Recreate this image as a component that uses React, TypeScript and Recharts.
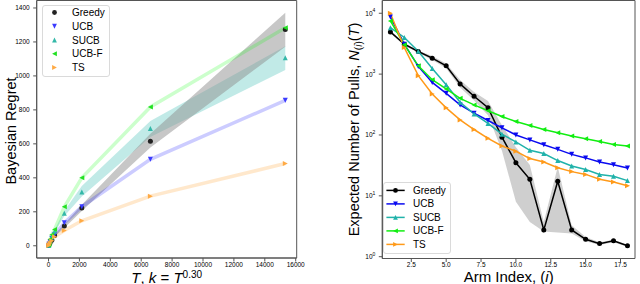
import React from 'react';
import { Area, ComposedChart, Legend, Line, ReferenceArea, XAxis, YAxis } from 'recharts';

const FONT = '"Liberation Sans", Arial, sans-serif';
const SPINE = '#555';

const seriesNames = ['Greedy', 'UCB', 'SUCB', 'UCB-F', 'TS'];
const markerShapes = ['o', 'v', '^', '<', '>'];

// left panel: regret vs horizon T (k = T^0.3 arms)
const horizons = [10, 39, 102, 214, 392, 1024, 2154, 6594, 15326];
const regretGreedy = [2, 7, 18, 33, 61, 116, 222, 615, 1273];
const regretGreedyLow = [1, 5, 14, 28, 54, 104, 205, 578, 1172];
const regretGreedyHigh = [3, 9, 22, 38, 68, 128, 242, 660, 1372];
const regretUcb = [3, 10, 25, 45, 66, 135, 230, 509, 856];
const regretSucb = [3, 12, 30, 52, 85, 192, 317, 690, 1107];
const regretSucbLow = [2, 10, 25, 45, 76, 176, 290, 640, 1035];
const regretSucbHigh = [4, 14, 35, 60, 95, 206, 352, 735, 1175];
const regretUcbf = [4, 15, 38, 65, 96, 229, 400, 817, 1283];
const regretTs = [2, 6, 16, 30, 53, 90, 147, 292, 484];

const leftXTicks = [0, 2000, 4000, 6000, 8000, 10000, 12000, 14000, 16000];
const leftYTicks = [0, 200, 400, 600, 800, 1000, 1200, 1400];
const leftXDomain = [-765, 16065];
const leftYDomain = [-72, 1444];

// right panel: expected pulls per arm index
const armIndex = [1, 2, 3, 4, 5, 6, 7, 8, 9, 10, 11, 12, 13, 14, 15, 16, 17, 18];
const pullsGreedy = [4940, 3100, 2350, 1830, 1370, 690, 432, 280, 92, 35, 18.7, 2.75, 17.4, 2.75, 1.93, 1.64, 1.82, 1.51];
const pullsGreedyLow = [4700, 2950, 2250, 1700, 1250, 600, 370, 210, 55, 8, 3.7, 2.6, 2.5, 2.4, 1.8, 1.55, 1.72, 1.45];
const pullsGreedyHigh = [5200, 3250, 2450, 1990, 1500, 800, 510, 360, 145, 63, 32, 3.7, 30, 3.3, 2.1, 1.72, 1.9, 1.57];
const pullsUcb = [8700, 3100, 1340, 730, 483, 312, 228, 173, 131, 100, 83, 69, 58, 48, 42, 36, 32.5, 28.6];
const pullsSucb = [5800, 4000, 2370, 1240, 670, 344, 222, 155, 103, 77, 56, 49.5, 38, 31, 27, 22.5, 21, 17.8];
const pullsUcbf = [7480, 3050, 1370, 810, 570, 400, 312, 250, 201, 166, 143, 123, 109, 96, 87, 78, 70, 66];
const pullsTs = [10000, 2730, 942, 472, 279, 177, 123, 88, 66, 54, 41, 36, 29, 25, 22.5, 18.7, 16.9, 14.7];

const rightXTicks = [2.5, 5, 7.5, 10, 12.5, 15, 17.5];
const rightYTicks = [1, 10, 100, 1000, 10000];
const rightXDomain = [0.42, 18.54];
const rightYDomain = [0.934, 16200];

const leftMarkerColors = ['#222222', '#3b3bff', '#33b8a8', '#22e022', '#ffaa44'];
const leftLineColors = ['#000000', '#0000ff', '#20b2aa', '#00ff00', '#ff8c00'];
const rightColors = ['#000000', '#0a0af0', '#20b2aa', '#11ee11', '#ff9a1a'];

const leftData = horizons.map((T, i) => ({
  T,
  greedy: regretGreedy[i],
  greedyBand: [regretGreedyLow[i], regretGreedyHigh[i]],
  ucb: regretUcb[i],
  sucb: regretSucb[i],
  sucbBand: [regretSucbLow[i], regretSucbHigh[i]],
  ucbf: regretUcbf[i],
  ts: regretTs[i],
}));

const rightData = armIndex.map((arm, i) => ({
  arm,
  greedy: pullsGreedy[i],
  greedyBand: [pullsGreedyLow[i], pullsGreedyHigh[i]],
  ucb: pullsUcb[i],
  sucb: pullsSucb[i],
  ucbf: pullsUcbf[i],
  ts: pullsTs[i],
}));

const seriesKeys = ['greedy', 'ucb', 'sucb', 'ucbf', 'ts'];

type MarkerProps = { cx?: number; cy?: number; shape: string; color: string; r?: number };

function Marker({ cx, cy, shape, color, r = 2.6 }: MarkerProps) {
  if (cx == null || cy == null || !Number.isFinite(cx) || !Number.isFinite(cy)) return null;
  if (shape === 'o') return <circle cx={cx} cy={cy} r={r} fill={color} />;
  let pts: number[][];
  if (shape === 'v') pts = [[0, r], [-r, -r], [r, -r]];
  else if (shape === '^') pts = [[0, -r], [-r, r], [r, r]];
  else if (shape === '<') pts = [[-r, 0], [r, -r], [r, r]];
  else pts = [[r, 0], [-r, -r], [-r, r]];
  return <polygon points={pts.map(([dx, dy]) => `${cx + dx},${cy + dy}`).join(' ')} fill={color} />;
}

const dotOf = (shape: string, color: string, r = 2.6) => (p: any) => (
  <Marker key={`${shape}-${p.index}`} cx={p.cx} cy={p.cy} shape={shape} color={color} r={r} />
);

function LogTick(props: any) {
  const { x, y, payload } = props;
  const exp = Math.round(Math.log10(payload.value));
  return (
    <text x={x} y={y} dy={2.5} textAnchor="end" fontSize={6.5} fontFamily={FONT} fill="#000">
      10<tspan dy={-3.6} fontSize={5}>{exp}</tspan>
    </text>
  );
}

const tickStyle = { fontSize: 6.5, fill: '#000', fontFamily: FONT };

const LeftLegend = () => (
  <svg width={68} height={72} style={{ display: 'block' }}>
    <rect x={0.5} y={0.5} width={67} height={71} rx={2.5} fill="#fff" fillOpacity={0.8} stroke="#d0d0d0" strokeWidth={0.8} />
    {seriesNames.map((name, i) => (
      <g key={name}>
        <Marker cx={12.5} cy={7.5 + i * 13.75} shape={markerShapes[i]} color={leftMarkerColors[i]} r={2.4} />
        <text x={30} y={7.5 + i * 13.75} dominantBaseline="central" fontSize={10} fontFamily={FONT} fill="#000">
          {name}
        </text>
      </g>
    ))}
  </svg>
);

const RightLegend = () => (
  <svg width={68} height={72} style={{ display: 'block' }}>
    <rect x={0.5} y={0.5} width={67} height={71} rx={2.5} fill="#fff" fillOpacity={0.8} stroke="#d0d0d0" strokeWidth={0.8} />
    {seriesNames.map((name, i) => {
      const cy = 8.4 + i * 13.5;
      return (
        <g key={name}>
          <line x1={3.4} x2={21.7} y1={cy} y2={cy} stroke={rightColors[i]} strokeWidth={1.5} />
          <Marker cx={12.5} cy={cy} shape={markerShapes[i]} color={rightColors[i]} r={2.4} />
          <text x={30} y={cy} dominantBaseline="central" fontSize={10} fontFamily={FONT} fill="#000">
            {name}
          </text>
        </g>
      );
    })}
  </svg>
);

function LeftPanel() {
  return (
    <ComposedChart width={320} height={284} data={leftData} margin={{ top: 0.5, right: 23.3, bottom: 0, left: 0 }}>
      <XAxis
        dataKey="T"
        type="number"
        domain={leftXDomain}
        ticks={leftXTicks}
        interval={0}
        allowDataOverflow
        height={26}
        tickSize={3.5}
        tickMargin={0.5}
        tick={tickStyle}
        axisLine={{ stroke: SPINE }}
        tickLine={{ stroke: SPINE }}
      />
      <YAxis
        type="number"
        domain={leftYDomain}
        ticks={leftYTicks}
        interval={0}
        allowDataOverflow
        width={36.7}
        tickSize={3.5}
        tickMargin={3.5}
        tick={tickStyle}
        axisLine={{ stroke: SPINE }}
        tickLine={{ stroke: SPINE }}
      />
      <Area dataKey="sucbBand" type="linear" stroke="none" fill="#20b2aa" fillOpacity={0.28} isAnimationActive={false} />
      <Area dataKey="greedyBand" type="linear" stroke="none" fill="#8f8f8f" fillOpacity={0.5} isAnimationActive={false} />
      {seriesKeys.map((key, i) => (
        <Line
          key={key}
          dataKey={key}
          type="linear"
          stroke={i === 0 || i === 2 ? 'none' : leftLineColors[i]}
          strokeOpacity={0.2}
          strokeWidth={3.5}
          dot={dotOf(markerShapes[i], leftMarkerColors[i], 2.5)}
          activeDot={false}
          isAnimationActive={false}
        />
      ))}
      <ReferenceArea
        x1={leftXDomain[0]}
        x2={leftXDomain[1]}
        y1={leftYDomain[0]}
        y2={leftYDomain[1]}
        fill="none"
        stroke={SPINE}
        strokeWidth={1}
      />
      <Legend
        layout="vertical"
        align="center"
        verticalAlign="middle"
        content={() => <LeftLegend />}
        wrapperStyle={{ position: 'absolute', left: 41.7, top: 5, width: 68, height: 72 }}
      />
    </ComposedChart>
  );
}

function RightPanel() {
  return (
    <ComposedChart width={320} height={284} data={rightData} margin={{ top: 0.5, right: 5, bottom: 0, left: 0 }}>
      <XAxis
        dataKey="arm"
        type="number"
        domain={rightXDomain}
        ticks={rightXTicks}
        interval={0}
        allowDataOverflow
        height={25.5}
        tickSize={3.5}
        tickMargin={0.5}
        tick={tickStyle}
        tickFormatter={(v: number) => v.toFixed(1)}
        axisLine={{ stroke: SPINE }}
        tickLine={{ stroke: SPINE }}
      />
      <YAxis
        type="number"
        scale="log"
        domain={rightYDomain}
        ticks={rightYTicks}
        interval={0}
        allowDataOverflow
        width={62.3}
        tickSize={3.5}
        tickMargin={3.5}
        tick={<LogTick />}
        axisLine={{ stroke: SPINE }}
        tickLine={{ stroke: SPINE }}
      />
      <Area dataKey="greedyBand" type="linear" stroke="none" fill="#a8a8a8" fillOpacity={0.55} isAnimationActive={false} />
      {seriesKeys.map((key, i) => (
        <Line
          key={key}
          dataKey={key}
          type="linear"
          stroke={rightColors[i]}
          strokeWidth={1.5}
          dot={dotOf(markerShapes[i], rightColors[i], 2.5)}
          activeDot={false}
          isAnimationActive={false}
        />
      ))}
      <ReferenceArea
        x1={rightXDomain[0]}
        x2={rightXDomain[1]}
        y1={rightYDomain[0]}
        y2={rightYDomain[1]}
        fill="none"
        stroke={SPINE}
        strokeWidth={1}
      />
      <Legend
        layout="vertical"
        align="center"
        verticalAlign="middle"
        content={() => <RightLegend />}
        wrapperStyle={{ position: 'absolute', left: 63.3, top: 182.3, width: 68, height: 72 }}
      />
    </ComposedChart>
  );
}

function AxisTitles() {
  return (
    <svg width={640} height={284} style={{ position: 'absolute', left: 0, top: 0, pointerEvents: 'none' }} fontFamily={FONT} fill="#000">
      <text x={166.7} y={282.5} textAnchor="middle" fontSize={15}>
        <tspan fontStyle="italic">T</tspan>, <tspan fontStyle="italic">k</tspan> = <tspan fontStyle="italic">T</tspan>
        <tspan dy={-5} fontSize={10}>0.30</tspan>
      </text>
      <text x={508.7} y={282} textAnchor="middle" fontSize={15}>
        Arm Index, (<tspan fontStyle="italic">i</tspan>)
      </text>
      <text x={15.5} y={131} textAnchor="middle" fontSize={14.5} transform="rotate(-90, 15.5, 131)">
        Bayesian Regret
      </text>
      <text x={358.5} y={129.5} textAnchor="middle" fontSize={14.5} transform="rotate(-90, 358.5, 129.5)">
        Expected Number of Pulls, <tspan fontStyle="italic">N</tspan>
        <tspan dy={3} fontSize={10}>(<tspan fontStyle="italic">i</tspan>)</tspan>
        <tspan dy={-3}>(</tspan><tspan fontStyle="italic">T</tspan>)
      </text>
    </svg>
  );
}

export default function App() {
  return (
    <div style={{ position: 'absolute', left: 0, top: 0, width: 640, height: 284, background: '#fff', fontFamily: FONT }}>
      <div style={{ position: 'absolute', left: 0, top: 0 }}>
        <LeftPanel />
      </div>
      <div style={{ position: 'absolute', left: 320, top: 0 }}>
        <RightPanel />
      </div>
      <AxisTitles />
    </div>
  );
}
